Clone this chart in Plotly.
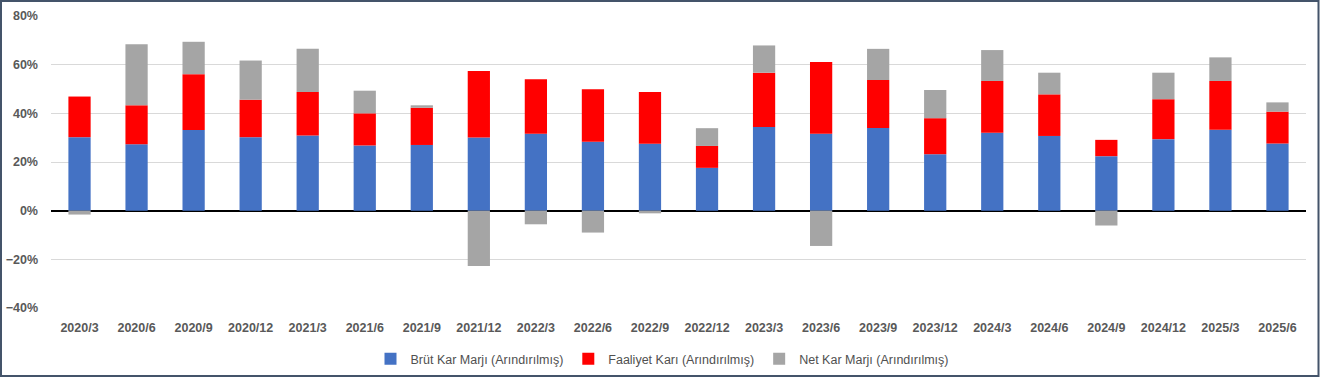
import plotly.graph_objects as go

categories = ["2020/3", "2020/6", "2020/9", "2020/12", "2021/3", "2021/6", "2021/9", "2021/12",
              "2022/3", "2022/6", "2022/9", "2022/12", "2023/3", "2023/6", "2023/9", "2023/12",
              "2024/3", "2024/6", "2024/9", "2024/12", "2025/3", "2025/6"]

# stacked segment values (percent)
brut = [30.2, 27.3, 33.1, 30.2, 30.9, 26.8, 27.0, 30.1, 31.6, 28.3, 27.5, 17.6,
        34.4, 31.6, 34.0, 23.2, 32.0, 30.7, 22.4, 29.4, 33.3, 27.6]
faaliyet = [16.7, 16.0, 23.0, 15.4, 17.9, 13.2, 15.3, 27.3, 22.4, 21.6, 21.3, 9.0,
            22.3, 29.5, 19.7, 14.8, 21.3, 17.1, 6.7, 16.4, 20.0, 13.1]
net = [-1.6, 25.1, 13.3, 16.1, 17.7, 9.3, 1.0, -22.7, -5.6, -9.0, -1.1, 7.3,
       11.2, -14.5, 12.8, 11.6, 12.7, 8.9, -6.1, 10.9, 9.7, 3.8]

series_names = ["Brüt Kar Marjı (Arındırılmış)", "Faaliyet Karı (Arındırılmış)", "Net Kar Marjı (Arındırılmış)"]
colors = ["#4472C4", "#FF0000", "#A5A5A5"]

W, H = 1321, 377
ml, mr, mt, mb = 51, 15, 16, 69
pw, ph = W - ml - mr, H - mt - mb

fig = go.Figure()
for name, vals, c in zip(series_names, [brut, faaliyet, net], colors):
    fig.add_trace(go.Bar(x=categories, y=[v / 100 for v in vals], name=name,
                         marker=dict(color=c, line=dict(width=0))))

fig.update_layout(
    width=W, height=H,
    margin=dict(l=ml, r=mr, t=mt, b=mb, autoexpand=False),
    barmode="relative",
    bargap=0.61,
    plot_bgcolor="white", paper_bgcolor="white",
    font=dict(family="Liberation Sans, Arial, sans-serif", color="#595959"),
    showlegend=True,
    legend=dict(orientation="h", x=(662 - ml) / pw, xanchor="center", y=-51 / ph, yanchor="middle",
                font=dict(size=12.5, color="#505050"), traceorder="normal",
                itemwidth=30, itemsizing="constant"),
    xaxis=dict(showgrid=False, showline=False, ticks="", automargin=False,
               tickfont=dict(size=12.5, color="#595959", weight="bold"),
               ticklabelstandoff=10),
    yaxis=dict(range=[-0.4, 0.8], dtick=0.2, tickformat=".0%", automargin=False,
               showgrid=True, gridcolor="#D9D9D9", gridwidth=1,
               zeroline=True, zerolinecolor="#000000", zerolinewidth=2,
               tickfont=dict(size=12.5, color="#595959", weight="bold"),
               ticklabelstandoff=12),
    shapes=[dict(type="rect", xref="paper", yref="paper",
                 x0=-(ml - 1) / pw, x1=1 + (mr - 2.5) / pw,
                 y0=-(mb - 1) / ph, y1=1 + (mt - 1) / ph,
                 line=dict(color="#44546A", width=2), layer="above")],
)

fig.write_html("out.html", config={"displayModeBar": False},
               post_script="document.body.style.margin='0';document.body.style.overflow='hidden';")
